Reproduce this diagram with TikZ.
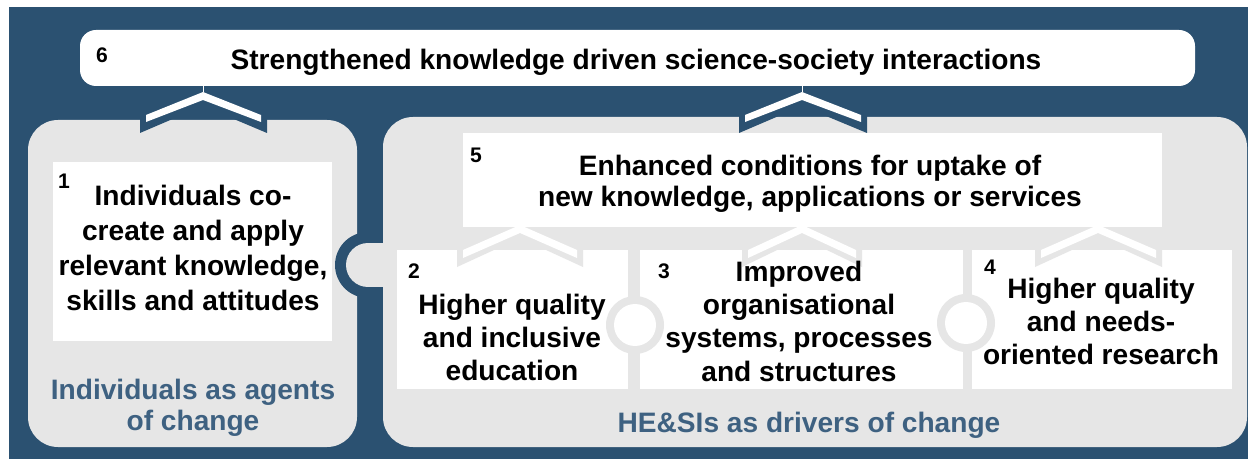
\documentclass[tikz,border=0pt]{standalone}
\usepackage{fontspec}
\setmainfont{Liberation Sans}
\usetikzlibrary{fit}
\definecolor{navy}{HTML}{2B5171}
\definecolor{panelgray}{HTML}{E6E6E6}
\definecolor{labelblue}{HTML}{3E6181}

\begin{document}
\begin{tikzpicture}[
				x=0.02cm,y=-0.02cm,
				panel/.style={fill=panelgray,inner sep=0pt,rounded corners=0.6cm},
				card/.style={fill=white,inner sep=0pt},
				txt/.style={font=\fontsize{16}{19}\selectfont\bfseries,align=center,anchor=north,inner sep=0pt},
				lbl/.style={txt,text=labelblue,font=\fontsize{16}{18}\selectfont\bfseries},
				num/.style={font=\fontsize{12}{14}\selectfont\bfseries,inner sep=0pt}
				]
				
				% Background
				\useasboundingbox (0,0) rectangle (1250,459);
				\fill[white] (0,0) rectangle (1250,459);
				\fill[navy] (9,7) rectangle (1248,459);
				
				% Outcome 6
				\node[card,rounded corners=0.32cm,fit={(80,30) (1195,86)}] (top6) {};
				
				% Panels
				\node[panel,fit={(28,120) (357,447)}] (indiv) {};
				\fill[navy] (368,265) circle[radius=0.66cm];
				\node[panel,fit={(383,117) (1247,447)}] (hesi) {};
				\fill[panelgray] (368,265) circle[radius=0.44cm];
				\fill[panelgray] (368,243) rectangle (384,287);
				
				% Chevrons up to 6
				\foreach \l/\c/\r in {140/203/267, 739/802/867}{
					\fill[navy] (\l,100) -- (\l,133) -- (\c,106) -- (\r,133) -- (\r,100) -- cycle;
					\fill[white] (\l+6,115) -- (\c,92) -- (\r-6,115) -- (\r-6,122) -- (\c,100) -- (\l+6,122) -- cycle;
					\draw[white,line width=0.4pt] (\c,86) -- (\c,92);
				}
				
				% Boxes
				\node[card,fit={(53,162) (332,341)}] (box1) {};
				\node[card,fit={(463,133) (1162,227)}] (box5) {};
				\node[card,fit={(397,250) (628,389)}] (box2) {};
				\node[card,fit={(640,250) (963,389)}] (box3) {};
				\node[card,fit={(972,250) (1232,389)}] (box4) {};
				
				% Rings between 2, 3 and 4
				\foreach \cx/\cy in {635/325, 966/323}{
					\fill[panelgray] (\cx,\cy) circle[radius=0.58cm];
					\fill[white] (\cx,\cy) circle[radius=0.42cm];
				}
				
				% Chevrons up to 5
				\foreach \l/\c/\r in {457/520/583, 742/802/862, 1035/1098/1162}{
					\fill[panelgray] (\l,234) -- (\l,267) -- (\c,238) -- (\r,267) -- (\r,234) -- cycle;
					\fill[white] (\l+6,250) -- (\c,225) -- (\r-6,250) -- (\r-6,258) -- (\c,233) -- (\l+6,258) -- cycle;
				}
				
				% Texts
				\node[txt] (t6) at (636,48.5) {Strengthened knowledge driven science-society interactions};
				\node[txt,font=\fontsize{16}{20}\selectfont\bfseries] (t1) at (193,184.5) {Individuals co-\\create and apply\\relevant knowledge,\\skills and attitudes};
				\node[txt,font=\fontsize{16}{18}\selectfont\bfseries] (t5) at (810,154.5) {Enhanced conditions for uptake of\\new knowledge, applications or services};
				\node[txt] (t2) at (512,293.5) {Higher quality\\and inclusive\\education};
				\node[txt] (t3) at (799,260.5) {Improved\\organisational\\systems, processes\\and structures};
				\node[txt] (t4) at (1101,277.5) {Higher quality\\and needs-\\oriented research};
				\node[lbl] (l1) at (193,378.5) {Individuals as agents\\of change};
				\node[lbl] (l2) at (809,411.5) {HE\&SIs as drivers of change};
				
				% Numbers
				\node[num] (n6) at (102,55) {6};
				\node[num] (n1) at (64,181) {1};
				\node[num] (n5) at (476,155) {5};
				\node[num] (n2) at (414,271) {2};
				\node[num] (n3) at (664,271) {3};
				\node[num] (n4) at (990,267) {4};
				
			\end{tikzpicture}
\end{document}
